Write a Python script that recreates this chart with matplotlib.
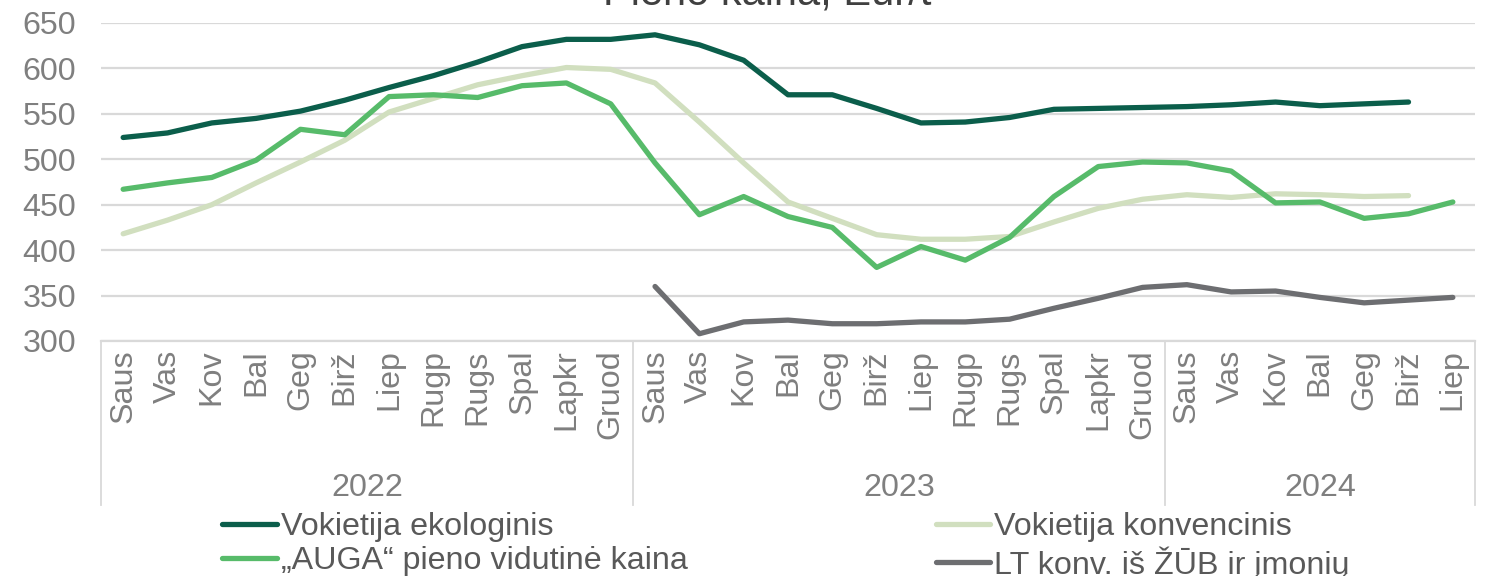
import numpy as np
import matplotlib.pyplot as plt
from matplotlib.transforms import blended_transform_factory

plt.rcParams["font.family"] = ["Liberation Sans", "DejaVu Sans"]

months = ["Saus", "Vas", "Kov", "Bal", "Geg", "Birž", "Liep", "Rugp", "Rugs", "Spal", "Lapkr", "Gruod"]
years = ["2022", "2023", "2024"]
months_per_year = [12, 12, 7]
month_labels = months * 2 + months[:7]

nan = np.nan
de_eko = [524, 529, 540, 545, 553, 565, 579, 592, 607, 624, 632, 632,
          637, 626, 609, 571, 571, 556, 540, 541, 546, 555, 556, 557,
          558, 560, 563, 559, 561, 563, nan]
de_konv = [418, 433, 450, 474, 497, 521, 552, 567, 582, 592, 601, 599,
           584, 541, 496, 453, 435, 417, 412, 412, 415, 431, 446, 456,
           461, 458, 462, 461, 459, 460, nan]
auga = [467, 474, 480, 499, 533, 527, 569, 571, 568, 581, 584, 561,
        496, 439, 459, 437, 425, 381, 404, 389, 414, 459, 492, 497,
        496, 487, 452, 453, 435, 440, 453]
lt_konv = [nan] * 12 + [360, 308, 321, 323, 319, 319, 321, 321, 324, 336, 347, 359,
                        362, 354, 355, 348, 342, 345, 348]

series = [
    ("Vokietija ekologinis", de_eko, "#0b5e4b"),
    ("„AUGA“ pieno vidutinė kaina", auga, "#57bb6a"),
    ("Vokietija konvencinis", de_konv, "#d1dfbf"),
    ("LT konv. iš ŽŪB ir įmonių", lt_konv, "#6d6e71"),
]

fs = 23.2
fig, ax = plt.subplots(figsize=(14.86, 5.76), dpi=100)
fig.subplots_adjust(left=101 / 1486, right=1475 / 1486, top=1 - 23 / 576, bottom=1 - 341 / 576)

x = np.arange(len(month_labels))
# draw the light ones first so the dark lines sit on top
for name, vals, color in [series[2], series[3], series[1], series[0]]:
    ax.plot(x, vals, color=color, lw=3.8, solid_capstyle="round", label=name)
order = {s[0]: i for i, s in enumerate(series)}
lines = sorted(ax.get_lines(), key=lambda l: order[l.get_label()])

ax.set_xlim(-0.5, len(month_labels) - 0.5)
ax.set_ylim(300, 650)
ax.set_yticks(np.arange(300, 651, 50))
ax.grid(axis="y", color="#d9d9d9", lw=1.6)
ax.set_axisbelow(True)
for s in ["top", "right", "left"]:
    ax.spines[s].set_visible(False)
ax.spines["bottom"].set_color("#d9d9d9")
ax.spines["bottom"].set_linewidth(1.6)

ax.set_xticks(x)
ax.set_xticklabels(month_labels, rotation=90, va="top")
ax.tick_params(axis="x", length=0, pad=6, labelsize=fs, labelcolor="#7f7f7f")
ax.tick_params(axis="y", length=0, pad=18, labelsize=fs, labelcolor="#7f7f7f")

trans = blended_transform_factory(ax.transData, ax.transAxes)
bounds = np.concatenate([[0], np.cumsum(months_per_year)]) - 0.5
sep_bottom = -(505 - 341) / 318
for b in bounds:
    ax.plot([b, b], [0, sep_bottom], transform=trans, color="#d9d9d9", lw=1.3, clip_on=False)
for i, yr in enumerate(years):
    ax.text((bounds[i] + bounds[i + 1]) / 2, -(488 - 341) / 318, yr, transform=trans,
            ha="center", va="center", fontsize=fs, color="#7f7f7f")

fig.text(767 / 1486, 1 - 5 / 576, "Pieno kaina, Eur/t", ha="center", va="baseline",
         fontsize=30, color="#404040")

fig.legend(handles=lines, labels=[l.get_label() for l in lines], ncol=2, frameon=False,
           loc="upper left", bbox_to_anchor=(222 / 1486, 1 - 512 / 576),
           borderaxespad=0, borderpad=0, fontsize=fs, labelcolor="#595959",
           handlelength=1.7, handletextpad=0.12, labelspacing=0.13, columnspacing=7.7)

fig.savefig("out.png", dpi=100)
